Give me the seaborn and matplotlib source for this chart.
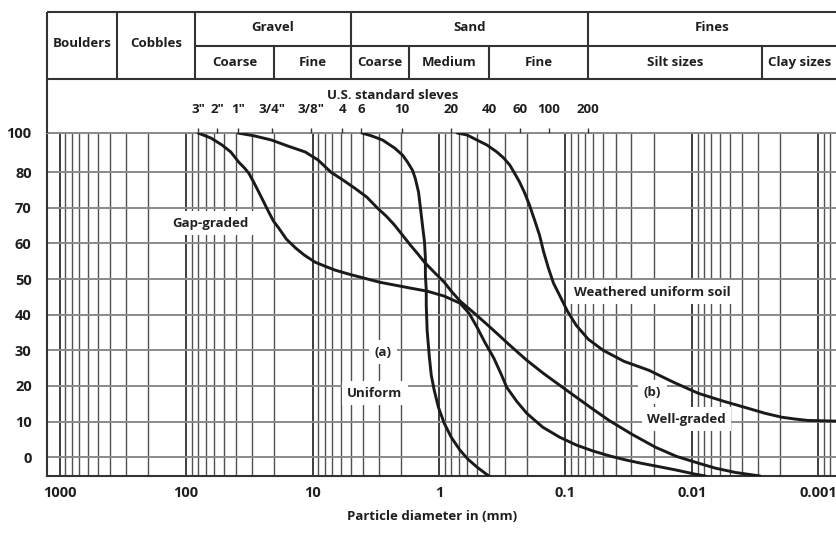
import numpy as np
import pandas as pd
import matplotlib
matplotlib.use("Agg")
import matplotlib.pyplot as plt
import seaborn as sns
from matplotlib.ticker import LogLocator, NullFormatter

# ---------------- data ----------------
gap_d = [80.4, 63.5, 52.1, 44.3, 38.3, 34.5, 31.9, 29.2, 26.6, 24.3, 22.2, 20.3,
         18.5, 16.1, 13.6, 11.6, 9.5, 7.96, 6.63, 5.07, 3.86, 2.94, 2.24, 1.65,
         1.24, 0.908, 0.68, 0.578, 0.50, 0.433, 0.368, 0.324, 0.291, 0.243,
         0.202, 0.151, 0.111, 0.082, 0.0602, 0.0443, 0.0332, 0.0253, 0.0193,
         0.0134, 0.00935, 0.0078]
gap_p = [100, 97.4, 93.9, 90.3, 85.1, 82.1, 79.7, 77.2, 74.4, 71.6, 68.8, 66.2,
         64.3, 61.2, 58.7, 56.7, 54.7, 53.6, 52.5, 51.3, 50.2, 49.1, 48.3, 47.4,
         46.6, 45.2, 43.2, 40.4, 36.5, 32.2, 27.8, 23.5, 19.6, 15.7,
         12.3, 8.4, 5.6, 3.4, 1.7, 0.3, -0.8, -1.7, -2.5,
         -3.6, -4.8, -5.3]

well_d = [39.0, 28.7, 21.1, 15.6, 11.4, 9.04, 7.15, 5.75, 4.63, 3.72, 3.06, 2.60,
          2.24, 1.94, 1.68, 1.48, 1.30, 1.09, 0.908, 0.786, 0.68, 0.537, 0.418,
          0.342, 0.275, 0.202, 0.149, 0.111, 0.0818, 0.0602, 0.0451, 0.0297,
          0.0193, 0.0132, 0.00885, 0.0065, 0.00453, 0.00288]
well_p = [100, 98.5, 96.4, 93.3, 90.3, 86.2, 80.0, 77.8, 75.5, 73.0, 69.9, 67.6,
          65.1, 62.3, 59.5, 57.2, 54.7, 51.9, 49.1, 46.3, 43.8, 40.7, 37.3,
          34.5, 31.4, 27.2, 23.5, 20.2, 16.8, 13.4, 10.3, 6.4,
          2.75, 0.2, -1.7, -3.1, -4.3, -5.3]

unif_d = [4.07, 3.40, 2.79, 2.24, 1.94, 1.77, 1.62, 1.54, 1.45, 1.40, 1.35, 1.30,
          1.28, 1.28, 1.26, 1.26, 1.24, 1.19, 1.15, 1.09, 1.01, 0.908, 0.80,
          0.68, 0.589, 0.50, 0.403]
unif_p = [100, 98.5, 96.4, 92.3, 88.7, 85.1, 81.0, 78.3, 74.4, 69.9, 65.1, 60.3,
          55.8, 51.1, 46.9, 42.6, 35.6, 28.0, 23.0, 18.8, 14.0, 9.5, 5.6,
          1.9, -0.6, -2.8, -5.3]

weath_d = [0.718, 0.60, 0.50, 0.418, 0.348, 0.307, 0.275, 0.252, 0.23, 0.21,
           0.192, 0.175, 0.16, 0.149, 0.136, 0.124, 0.111, 0.0964, 0.082,
           0.0659, 0.0503, 0.0344, 0.0219, 0.0139, 0.00885, 0.00562, 0.00358,
           0.00263, 0.00194, 0.00153, 0.00121, 0.00071]
weath_p = [100, 99.0, 96.4, 93.9, 90.3, 87.2, 83.6, 79.7, 77.2, 74.2,
           70.7, 66.5, 62.3, 57.8, 53.0, 48.8, 45.4, 41.0, 37.0,
           33.1, 30.0, 26.9, 24.4, 21.0, 17.9, 15.7, 13.7,
           12.3, 11.2, 10.7, 10.3, 10.1]

y_ticks = [0, 10, 20, 30, 40, 50, 60, 70, 80, 100]
x_major = [1000, 100, 10, 1, 0.1, 0.01, 0.001]
x_major_labels = ["1000", "100", "10", "1", "0.1", "0.01", "0.001"]

sieve_sizes = [80, 57, 39, 21, 10.2, 5.8, 4.1, 1.95, 0.8, 0.4, 0.23, 0.135, 0.066]
sieve_labels = ['3"', '2"', '1"', '3/4"', '3/8"', '4', '6', '10', '20', '40',
                '60', '100', '200']

x_left, x_right = 1260, 0.00071
main_classes = ["Boulders", "Cobbles", "Gravel", "Sand", "Fines"]
main_edges = [x_left, 355, 85, 5.0, 0.066, x_right]
sub_classes = ["Coarse", "Fine", "Coarse", "Medium", "Fine", "Silt sizes", "Clay sizes"]
sub_edges = [85, 20, 5.0, 1.74, 0.40, 0.066, 0.0028, x_right]

curve_labels = ["Gap-graded", "Weathered uniform soil", "(a)", "Uniform", "(b)", "Well-graded"]
label_x = [63.7, 0.0204, 2.79, 3.22, 0.0204, 0.0110]
label_y = [65.7, 46.3, 29.4, 17.9, 18.2, 10.6]

# ---------------- figure ----------------
sns.set_theme(style="white")
plt.rcParams["font.family"] = ["Open Sans", "DejaVu Sans"]

W, H = 837, 536
fig = plt.figure(figsize=(W / 100, H / 100), dpi=100)
ax = fig.add_axes([47 / W, (H - 476) / H, (837 - 47) / W, (476 - 133) / H])
hax = fig.add_axes([47 / W, (H - 133) / H, (837 - 47) / W, (133 - 12) / H])

frames = []
for name, d, p in [("gap", gap_d, gap_p), ("well", well_d, well_p),
                   ("unif", unif_d, unif_p), ("weath", weath_d, weath_p)]:
    frames.append(pd.DataFrame({"d": d, "p": p, "curve": name}))
df = pd.concat(frames, ignore_index=True)

ax.set_xscale("log")
sns.lineplot(data=df, x="d", y="p", units="curve", estimator=None, sort=False,
             color="#1a1a1a", lw=2.1, ax=ax, zorder=5)
for ln in ax.lines:
    ln.set_solid_joinstyle("round")
    ln.set_solid_capstyle("round")


def fwd(y):
    y = np.asarray(y, dtype=float)
    return np.where(y <= 80, y, 80 + (y - 80) * 0.55)


def inv(v):
    v = np.asarray(v, dtype=float)
    return np.where(v <= 80, v, 80 + (v - 80) / 0.55)


ax.set_yscale("function", functions=(fwd, inv))
ax.set_xlim(x_left, x_right)
ax.set_ylim(-5.3, 100)
ax.set_yticks(y_ticks, labels=[str(t) for t in y_ticks])
ax.set_xticks(x_major, labels=x_major_labels)
ax.xaxis.set_minor_locator(LogLocator(base=10, subs=np.arange(2, 10), numticks=100))
ax.xaxis.set_minor_formatter(NullFormatter())
ax.set_xlabel("")
ax.set_ylabel("")

ax.grid(False)
ax.grid(True, which="major", axis="y", color="#8a8a8a", lw=1.4, zorder=1)
ax.grid(True, which="major", axis="x", color="#2e2e2e", lw=1.3, zorder=1)
ax.grid(True, which="minor", axis="x", color="#505050", lw=1.0, zorder=1)
ax.set_axisbelow(True)

ax.tick_params(axis="both", which="both", length=0, labelsize=10.5,
               labelcolor="#1e1e1e")
ax.tick_params(axis="y", pad=11)
ax.tick_params(axis="x", pad=7)
for lab in ax.get_xticklabels() + ax.get_yticklabels():
    lab.set_fontweight("bold")

for s in ["left", "bottom"]:
    ax.spines[s].set_color("#333333")
    ax.spines[s].set_linewidth(1.5)
ax.spines["right"].set_visible(False)
ax.spines["top"].set_color("#8a8a8a")
ax.spines["top"].set_linewidth(1.4)

for t, x, y in zip(curve_labels, label_x, label_y):
    ax.text(x, y, t, ha="center", va="center", fontsize=9.5, color="#222222",
            fontweight="bold", zorder=4,
            bbox=dict(facecolor="white", edgecolor="none", pad=4))

# ---------------- header table ----------------
hax.set_xscale("log")
hax.set_xlim(x_left, x_right)
hax.set_ylim(0, 1)
hax.axis("off")

lc = "#333333"
lw = 1.5
y_top, y_mid, y_bot = 1.0, 0.719, 0.446
hax.hlines([y_top, y_bot], x_left, x_right, color=lc, lw=lw, clip_on=False)
hax.hlines(y_mid, main_edges[2], x_right, color=lc, lw=lw, clip_on=False)
hax.vlines(x_left, 0, y_top, color=lc, lw=lw, clip_on=False)
hax.vlines(main_edges[1:-1], y_bot, y_top, color=lc, lw=lw, clip_on=False)
hax.vlines([sub_edges[1], sub_edges[3], sub_edges[4], sub_edges[6]],
           y_bot, y_mid, color=lc, lw=lw, clip_on=False)

for i, name in enumerate(main_classes):
    xc = np.sqrt(main_edges[i] * main_edges[i + 1])
    yc = 0.736 if name in ("Boulders", "Cobbles") else 0.868
    hax.text(xc, yc, name, ha="center", va="center", fontsize=9.5,
             color="#1e1e1e", fontweight="bold")
for i, name in enumerate(sub_classes):
    xc = np.sqrt(sub_edges[i] * sub_edges[i + 1])
    hax.text(xc, 0.579, name, ha="center", va="center", fontsize=9.5,
             color="#1e1e1e", fontweight="bold", clip_on=False)

hax.text(2.33, 0.314, "U.S. standard sleves", ha="center", va="center",
         fontsize=9.5, color="#1e1e1e", fontweight="bold")
for s, lab in zip(sieve_sizes, sieve_labels):
    hax.text(s, 0.198, lab, ha="center", va="center", fontsize=9.5,
             color="#1e1e1e", fontweight="bold")
hax.vlines(sieve_sizes, 0, 0.04, color="#333333", lw=1.0, clip_on=False)

fig.text(432 / W, 1 - 517 / H, "Particle diameter in (mm)", ha="center",
         va="center", fontsize=9.5, color="#1e1e1e", fontweight="bold")

fig.savefig("out.png", dpi=100, facecolor="white")
